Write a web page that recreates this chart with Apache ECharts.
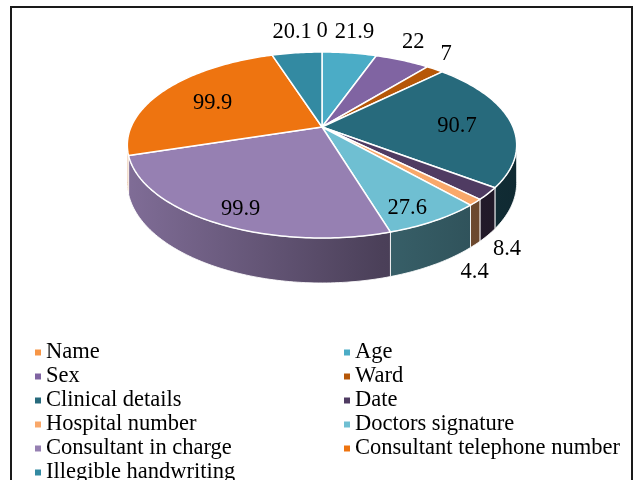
<!DOCTYPE html>
<html><head><meta charset="utf-8">
<script src="https://cdn.jsdelivr.net/npm/echarts@6/dist/echarts.min.js"></script>
<style>html,body{margin:0;padding:0;background:#fff}#c{width:633px;height:480px}</style>
</head><body><div id="c"></div>
<script>
const categories = ['Name','Age','Sex','Ward','Clinical details','Date','Hospital number','Doctors signature','Consultant in charge','Consultant telephone number','Illegible handwriting'];
const values = [0, 21.9, 22, 7, 90.7, 8.4, 4.4, 27.6, 99.9, 99.9, 20.1];
const colors = ['#F79646','#4BACC6','#8064A2','#B65708','#276A7C','#4F3B62','#F9A86A','#6FBFD2','#9680B2','#EE7410','#338AA2'];
const legendLeft = ['Name','Sex','Clinical details','Hospital number','Consultant in charge','Illegible handwriting'];
const legendRight = ['Age','Ward','Date','Doctors signature','Consultant telephone number'];

const FONT = '"Liberation Serif","Times New Roman",serif';
const FS = 22.5;
const G = {cx: 322, cy: 127, rx: 191, ry: 89.5, k: 0.1935, depth: 36.3};
const VIS0 = Math.acos(-G.k) * 180 / Math.PI, VIS1 = 360 - VIS0;

function proj(deg, f, down) {
  const t = deg * Math.PI / 180;
  const u = Math.sin(t), v = -Math.cos(t);
  const s = 1 / (1 - G.k * v * f);
  return [G.cx + G.rx * f * u * s, G.cy + G.ry * f * v * s + down * G.depth * s];
}
function mix(hex, t) {
  const n = parseInt(hex.slice(1), 16);
  const r = (n >> 16) & 255, g = (n >> 8) & 255, b = n & 255;
  return 'rgb(' + Math.round(r * (1 - t)) + ',' + Math.round(g * (1 - t)) + ',' + Math.round(b * (1 - t)) + ')';
}
function arc(a0, a1, f, down) {
  const n = Math.max(2, Math.ceil((a1 - a0) / 1));
  const pts = [];
  for (let j = 0; j <= n; j++) pts.push(proj(a0 + (a1 - a0) * j / n, f, down));
  return pts;
}

const total = values.reduce((a, b) => a + b, 0);
const slices = [];
let acc = 0;
values.forEach(v => { const a0 = acc / total * 360; acc += v; const a1 = acc / total * 360; slices.push({a0, a1, mid: (a0 + a1) / 2}); });

// label positions
const mctx = document.createElement('canvas').getContext('2d');
mctx.font = FS + 'px ' + FONT;
const placed = [];
const labelPos = slices.map((s, i) => {
  const txt = String(values[i]);
  const w = mctx.measureText(txt).width, h = 20, gap = 11;
  const t = s.mid * Math.PI / 180;
  const u = Math.sin(t), v = -Math.cos(t);
  if (values[i] >= 25) {
    const p = proj(s.mid, 0.72 + 0.08 * v, 0);
    return [p[0], p[1] + 3 + 8 * Math.max(v, 0)];
  }
  const front = s.mid > VIS0 && s.mid < VIS1;
  const r = proj(s.mid, 1, front ? 1 : 0);
  let x = r[0] + u * (w / 2 + gap), y = r[1] + v * (h / 2 + gap);
  placed.forEach(b => {
    if (Math.abs(x - b.x) < (w + b.w) / 2 && Math.abs(y - b.y) < h) {
      y = b.y + h + 3;
      x = x - w / 2 - 4;
    }
  });
  placed.push({x, y, w});
  return [x, y];
});

function makeRender(i) {
  return function (params, api) {
    const s = slices[i];
    const c = colors[i];
    const children = [];
    if (s.a1 - s.a0 > 0.001) {
      const top = [[G.cx, G.cy]].concat(arc(s.a0, s.a1, 1, 0));
      children.push({type: 'polygon', z2: 10, shape: {points: top},
        style: {fill: c, stroke: '#ffffff', lineWidth: 1.5, lineJoin: 'round'}});
      const ts = Math.max(s.a0, VIS0), te = Math.min(s.a1, VIS1);
      if (te > ts) {
        const side = arc(ts, te, 1, 0).concat(arc(ts, te, 1, 1).reverse());
        const grad = new echarts.graphic.LinearGradient(G.cx - G.rx - 5, 0, G.cx + G.rx + 5, 0, [
          {offset: 0, color: mix(c, 0.15)},
          {offset: 0.65, color: mix(c, 0.5)},
          {offset: 1, color: mix(c, 0.6)}
        ], true);
        children.push({type: 'polygon', z2: 1, shape: {points: side},
          style: {fill: grad, stroke: 'rgba(255,255,255,0.85)', lineWidth: 1}});
      }
    }
    const lp = labelPos[i];
    children.push({type: 'text', z2: 30, x: lp[0], y: lp[1],
      style: {text: String(values[i]), fill: '#000', font: FS + 'px ' + FONT, align: 'center', verticalAlign: 'middle'}});
    return {type: 'group', children};
  };
}

const series = categories.map((name, i) => ({
  type: 'custom', name, coordinateSystem: 'none',
  itemStyle: {color: colors[i]},
  renderItem: makeRender(i),
  data: [values[i]]
}));

const legendCommon = {orient: 'vertical', top: 341, height: 400, padding: 0, itemWidth: 6, itemHeight: 6, itemGap: 1, icon: 'rect',
  selectedMode: false, textStyle: {fontFamily: FONT, fontSize: FS, color: '#000', lineHeight: 20}};

const chart = echarts.init(document.getElementById('c'));
chart.setOption({
  animation: false,
  backgroundColor: '#fff',
  legend: [
    Object.assign({}, legendCommon, {left: 35, data: legendLeft}),
    Object.assign({}, legendCommon, {left: 344, data: legendRight})
  ],
  graphic: [{type: 'rect', z: -1, shape: {x: 11, y: 7, width: 621, height: 500},
    style: {fill: 'none', stroke: '#1a1a1a', lineWidth: 2}}],
  series
});
</script></body></html>
